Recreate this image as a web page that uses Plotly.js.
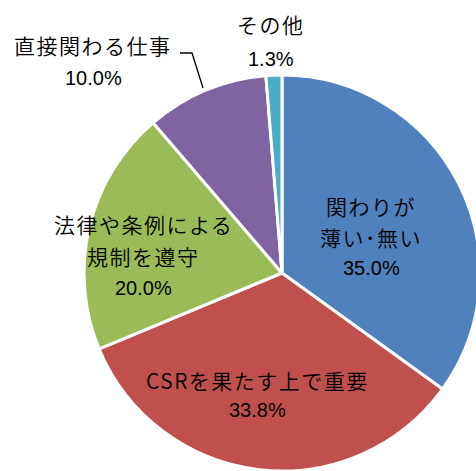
<!DOCTYPE html>
<html><head><meta charset="utf-8">
<script src="https://cdn.plot.ly/plotly-3.0.1.min.js"></script>
<style>html,body{margin:0;padding:0;overflow:hidden;background:#fff;width:476px;height:471px}
text.annotation-text[style*="Noto"]{letter-spacing:1.5px}</style>
</head><body><div id="chart"></div>
<script>
const labels = ["関わりが薄い･無い", "CSRを果たす上で重要", "法律や条例による規制を遵守", "直接関わる仕事", "その他"];
const labelLines = [["関わりが", "薄い･無い"], ["CSRを果たす上で重要"], ["法律や条例による", "規制を遵守"], ["直接関わる仕事"], ["その他"]];
const values = [35.0, 33.8, 20.0, 10.0, 1.3];
const colors = ["#4F81BD", "#C0504D", "#9BBB59", "#8064A2", "#4BACC6"];

const W = 500, H = 480;
const px = x => x / W, py = y => 1 - y / H;

// label placements (pixel centres of each text line, styling only)
const place = [
  {x: 371, ys: [206, 237, 268]},
  {x: 257, ys: [380, 410]},
  {x: 143, ys: [224, 256, 288]},
  {x: 93, ys: [45, 78]},
  {x: 271, ys: [24, 59]}
];
const jpFont = {family: "Noto Sans CJK JP, sans-serif", size: 21, color: "#000", weight: 350};
const numFont = {family: "Liberation Sans Narrow, Arial Narrow, sans-serif", size: 20, color: "#000"};
const annotations = [];
labelLines.forEach((lines, i) => {
  const all = lines.concat([values[i].toFixed(1) + "%"]);
  all.forEach((t, j) => {
    annotations.push({text: t, x: px(place[i].x), y: py(place[i].ys[j]), xref: "paper", yref: "paper",
      xanchor: "center", yanchor: "middle", showarrow: false, font: j < lines.length ? jpFont : numFont});
  });
});

const data = [{
  type: "pie", labels: labels, values: values, sort: false, direction: "clockwise", rotation: 0,
  marker: {colors: colors, line: {color: "#fff", width: 3}},
  textinfo: "none", hoverinfo: "label+percent",
  domain: {x: [px(84), px(480)], y: [py(472), py(74)]}
}];
const layout = {
  width: W, height: H, margin: {l: 0, r: 0, t: 0, b: 0}, showlegend: false,
  paper_bgcolor: "#fff", annotations: annotations,
  shapes: [{type: "path", xref: "paper", yref: "paper",
    path: `M ${px(180)} ${py(53)} L ${px(192)} ${py(53)} L ${px(203)} ${py(88)}`,
    line: {color: "#000", width: 1.3}}]
};
Plotly.newPlot("chart", data, layout, {displayModeBar: false, staticPlot: true});
</script></body></html>
